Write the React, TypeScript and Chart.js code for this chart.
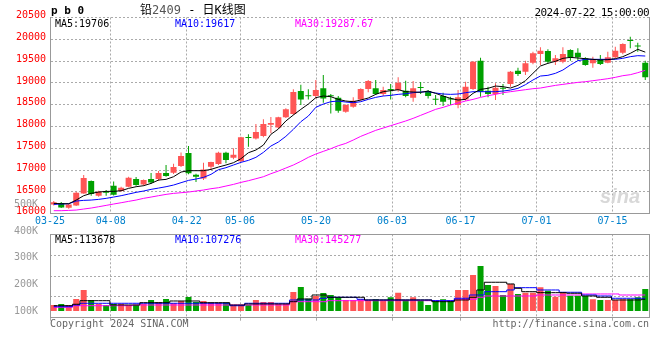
import React, { useEffect, useRef } from 'react';
import { Chart, registerables } from 'chart.js';

Chart.register(...registerables);
Chart.defaults.font.family = "'DejaVu Sans Mono', monospace";
Chart.defaults.font.size = 10;

const dates = [
  '03-25', '03-26', '03-27', '03-28', '03-29',
  '04-01', '04-02', '04-03', '04-08', '04-09', '04-10', '04-11', '04-12', '04-15', '04-16', '04-17', '04-18', '04-19', '04-22', '04-23', '04-24', '04-25', '04-26', '04-29', '04-30',
  '05-06', '05-07', '05-08', '05-09', '05-10', '05-13', '05-14', '05-15', '05-16', '05-17', '05-20', '05-21', '05-22', '05-23', '05-24', '05-27', '05-28', '05-29', '05-30', '05-31',
  '06-03', '06-04', '06-05', '06-06', '06-07', '06-11', '06-12', '06-13', '06-14', '06-17', '06-18', '06-19', '06-20', '06-21', '06-24', '06-25', '06-26', '06-27', '06-28',
  '07-01', '07-02', '07-03', '07-04', '07-05', '07-08', '07-09', '07-10', '07-11', '07-12', '07-15', '07-16', '07-17', '07-18', '07-19', '07-22',
];

const axisDates = ['03-25', '04-08', '04-22', '05-06', '05-20', '06-03', '06-17', '07-01', '07-15'];

const opens = [
  16216, 16247, 16139, 16193, 16468, 16751, 16415, 16506, 16644, 16522,
  16621, 16797, 16674, 16797, 16797, 16934, 16942, 17095, 17393, 16896,
  16812, 17080, 17141, 17401, 17286, 17202, 17752, 17729, 17783, 18043,
  17981, 18211, 18287, 18815, 18708, 18700, 18876, 18708, 18662, 18341,
  18455, 18623, 18860, 18876, 18746, 18860, 18837, 18822, 18662, 18899,
  18815, 18631, 18700, 18639, 18494, 18623, 18860, 19510, 18822, 18746,
  18884, 18975, 19281, 19258, 19464, 19663, 19732, 19487, 19487, 19755,
  19693, 19564, 19449, 19541, 19464, 19586, 19693, 19977, 19854, 19464,
];
const highs = [
  16292, 16270, 16231, 16506, 16888, 16766, 16529, 16545, 16743, 16621,
  16850, 16842, 16789, 16934, 16980, 17118, 17148, 17408, 17553, 16919,
  17171, 17194, 17424, 17424, 17500, 17768, 17821, 18058, 18165, 18218,
  18226, 18417, 18853, 18960, 18853, 19067, 19181, 18746, 18700, 18509,
  18669, 18876, 19067, 19067, 18914, 18975, 19128, 19052, 19044, 19021,
  18837, 18723, 18776, 18685, 18837, 19029, 19502, 19579, 18914, 18990,
  18975, 19273, 19350, 19510, 19716, 19816, 19770, 19640, 19816, 19770,
  19793, 19586, 19602, 19640, 19716, 19831, 19907, 20060, 19923, 19510,
];
const lows = [
  16193, 16132, 16117, 16178, 16460, 16415, 16392, 16415, 16422, 16506,
  16606, 16644, 16644, 16682, 16751, 16850, 16911, 17072, 16904, 16728,
  16774, 17003, 17118, 17156, 17248, 17187, 17538, 17706, 17752, 17844,
  17951, 18195, 18264, 18494, 18623, 18646, 18547, 18302, 18318, 18318,
  18432, 18593, 18784, 18723, 18700, 18623, 18799, 18669, 18570, 18746,
  18646, 18494, 18471, 18494, 18417, 18593, 18837, 18685, 18669, 18608,
  18723, 18914, 19158, 19181, 19426, 19411, 19449, 19411, 19449, 19510,
  19510, 19395, 19350, 19411, 19449, 19564, 19655, 19793, 19716, 19067,
];
const closes = [
  16262, 16147, 16216, 16483, 16820, 16453, 16506, 16483, 16438, 16598,
  16827, 16659, 16774, 16720, 16934, 16866, 17072, 17324, 16927, 16850,
  17018, 17186, 17401, 17232, 17355, 17752, 17736, 17874, 18058, 18081,
  18211, 18394, 18792, 18623, 18692, 18837, 18646, 18692, 18364, 18494,
  18593, 18860, 19044, 18746, 18837, 18830, 19006, 18700, 18876, 18884,
  18700, 18615, 18570, 18623, 18669, 18914, 19487, 18799, 18746, 18891,
  18868, 19258, 19204, 19449, 19678, 19739, 19487, 19564, 19663, 19586,
  19586, 19411, 19541, 19434, 19586, 19739, 19892, 19961, 19838, 19128,
];

const ma5 = [
  16239, 16231, 16231, 16315, 16415, 16468, 16499, 16514, 16514, 16529,
  16583, 16621, 16644, 16697, 16774, 16789, 16850, 16957, 16988, 16988,
  16988, 17018, 17072, 17118, 17171, 17263, 17400, 17462, 17576, 17821,
  17943, 18127, 18264, 18394, 18516, 18662, 18700, 18685, 18623, 18585,
  18570, 18608, 18654, 18738, 18799, 18822, 18845, 18799, 18792, 18784,
  18814, 18761, 18700, 18646, 18608, 18623, 18761, 18853, 18876, 18929,
  18914, 18883, 18944, 19051, 19220, 19388, 19449, 19495, 19564, 19586,
  19571, 19556, 19541, 19525, 19533, 19556, 19602, 19678, 19770, 19706,
];
const ma10 = [
  16216, 16224, 16231, 16292, 16308, 16315, 16331, 16354, 16384, 16415,
  16453, 16491, 16522, 16560, 16590, 16621, 16659, 16713, 16766, 16797,
  16835, 16904, 17011, 17057, 17118, 17179, 17225, 17294, 17408, 17553,
  17645, 17775, 17936, 18111, 18241, 18440, 18516, 18570, 18585, 18562,
  18547, 18570, 18623, 18669, 18700, 18715, 18738, 18753, 18776, 18792,
  18799, 18769, 18746, 18738, 18746, 18776, 18799, 18799, 18799, 18799,
  18814, 18837, 18876, 18960, 19067, 19158, 19174, 19220, 19296, 19411,
  19510, 19541, 19541, 19541, 19541, 19541, 19564, 19602, 19625, 19617,
];
const ma30 = [
  16071, 16071, 16078, 16086, 16109, 16132, 16162, 16193, 16224, 16254,
  16285, 16315, 16354, 16384, 16415, 16445, 16468, 16483, 16499, 16522,
  16545, 16575, 16598, 16636, 16674, 16720, 16759, 16804, 16850, 16919,
  16980, 17049, 17118, 17202, 17294, 17370, 17431, 17492, 17561, 17614,
  17691, 17775, 17844, 17913, 17966, 18020, 18073, 18127, 18188, 18257,
  18325, 18394, 18440, 18494, 18539, 18585, 18623, 18669, 18708, 18738,
  18776, 18799, 18822, 18845, 18868, 18883, 18914, 18944, 18967, 18990,
  19013, 19028, 19051, 19074, 19097, 19128, 19166, 19189, 19235, 19288,
];

const volumes = [
  122600, 126400, 122600, 145100, 178900, 141400, 126400, 122600, 126400, 126400,
  122600, 122600, 126400, 141400, 133900, 145100, 129000, 137600, 152600, 133900,
  137600, 131300, 131300, 131300, 122600, 122600, 122600, 141400, 133900, 133900,
  126400, 126400, 171400, 190100, 146300, 156400, 167600, 160100, 151500, 141400,
  141400, 144000, 138800, 144000, 138800, 151500, 168800, 141400, 151500, 138800,
  122600, 138800, 144000, 138800, 178900, 178900, 235100, 268900, 197600, 193900,
  160100, 201400, 163900, 168800, 168800, 189000, 176300, 153800, 168800, 157500,
  157500, 156400, 144000, 141400, 141400, 141400, 144000, 144000, 151500, 182600,
];
const volMa5 = [
  120000, 120000, 120000, 125300, 138800, 138800, 138800, 138800, 122600, 122600,
  122600, 122600, 131300, 131300, 131300, 131300, 137600, 137600, 137600, 137600,
  131300, 131300, 131300, 131300, 122600, 122600, 126400, 126400, 126400, 126400,
  126400, 126400, 135000, 145100, 145100, 160100, 160100, 151500, 151500, 151500,
  151500, 151500, 141400, 141400, 141400, 141400, 141400, 141400, 141400, 141400,
  141400, 135000, 135000, 135000, 141400, 141400, 151500, 178900, 207800, 207800,
  207800, 201400, 185300, 172500, 172500, 168800, 168800, 168800, 168800, 166500,
  166500, 156400, 156400, 151500, 151500, 141400, 141400, 141400, 141400, 144000,
];
const volMa10 = [
  116300, 116300, 116300, 122600, 129000, 129000, 129000, 129000, 129000, 129000,
  129000, 129000, 129000, 129000, 129000, 129000, 129000, 129000, 129000, 129000,
  129000, 129000, 129000, 129000, 120000, 120000, 129000, 129000, 129000, 129000,
  129000, 129000, 141400, 141400, 141400, 141400, 147800, 151500, 151500, 151500,
  151500, 144000, 141400, 141400, 141400, 141400, 141400, 141400, 141400, 141400,
  141400, 138800, 138800, 138800, 147800, 147800, 160100, 160100, 172500, 172500,
  172500, 178900, 187500, 187500, 187500, 178900, 178900, 178900, 170300, 170300,
  170300, 160100, 160100, 156400, 156400, 147800, 147800, 147800, 147800, 147800,
];
const volMa30 = [
  114000, 114000, 114000, 120000, 120000, 120000, 120000, 120000, 120000, 120000,
  120000, 122600, 122600, 122600, 122600, 122600, 122600, 122600, 122600, 122600,
  122600, 122600, 122600, 122600, 122600, 122600, 122600, 122600, 122600, 122600,
  122600, 122600, 135000, 135000, 135000, 135000, 135000, 138800, 138800, 138800,
  138800, 138800, 138800, 138800, 138800, 138800, 138800, 138800, 138800, 138800,
  138800, 138800, 138800, 138800, 144000, 144000, 144000, 151500, 156400, 156400,
  156400, 156400, 156400, 156400, 156400, 160100, 160100, 160100, 160100, 160100,
  160100, 163900, 163900, 163900, 163900, 163900, 160100, 160100, 160100, 160100,
];

const priceTicks = [16000, 16500, 17000, 17500, 18000, 18500, 19000, 19500, 20000, 20500];
const volTicks = [100000, 200000, 300000, 400000, 500000];
const volBase = 100000;

const UP = '#ff5555';
const DOWN = '#00a000';
const GRID = '#aaaaaa';
const FRAME = '#999999';
const DASH = [2, 2];

const mono = "'DejaVu Sans Mono', monospace";

export default function App() {
  const mainRef = useRef<HTMLCanvasElement>(null);
  const volRef = useRef<HTMLCanvasElement>(null);

  useEffect(() => {
    const colors = closes.map((c, i) => (c > opens[i] ? UP : DOWN));
    const labelIdx = axisDates.map((d) => dates.indexOf(d));
    const setLabelTicks = (s: any) => {
      s.ticks = labelIdx.map((v) => ({ value: v }));
    };

    const main = new Chart(mainRef.current as HTMLCanvasElement, {
      type: 'bar',
      data: {
        labels: dates,
        datasets: [
          { type: 'line', label: 'MA5', data: ma5, borderColor: '#000000', borderWidth: 1, pointRadius: 0, xAxisID: 'x', yAxisID: 'y' },
          { type: 'line', label: 'MA10', data: ma10, borderColor: '#0000ff', borderWidth: 1, pointRadius: 0, xAxisID: 'x', yAxisID: 'y' },
          { type: 'line', label: 'MA30', data: ma30, borderColor: '#ff00ff', borderWidth: 1, pointRadius: 0, xAxisID: 'x', yAxisID: 'y' },
          {
            type: 'bar', label: 'body', data: opens.map((o, i) => [o, closes[i]]),
            backgroundColor: colors, barThickness: 6, grouped: false, minBarLength: 1,
            inflateAmount: 0, borderWidth: 0, xAxisID: 'x', yAxisID: 'y',
          },
          {
            type: 'bar', label: 'wick', data: lows.map((l, i) => [l, highs[i]]),
            backgroundColor: colors, barThickness: 1, grouped: false,
            inflateAmount: 0, borderWidth: 0, xAxisID: 'x', yAxisID: 'y',
          },
        ] as any,
      },
      options: {
        responsive: false,
        animation: false,
        devicePixelRatio: 1,
        events: [],
        layout: { padding: { top: 17.5, right: 11, left: 0, bottom: 0 } },
        plugins: { legend: { display: false }, tooltip: { enabled: false } },
        scales: {
          x: { type: 'category', display: false, offset: true },
          xg: {
            type: 'linear', position: 'bottom', min: 0, max: 78.8, offset: false,
            afterBuildTicks: setLabelTicks,
            afterFit: (s: any) => { s.height = 21.2; },
            ticks: {
              callback: (v: any) => dates[v] ?? '', color: '#0080cc', autoSkip: false,
              maxRotation: 0, padding: 2, font: { size: 10, family: mono },
            },
            grid: { color: GRID, drawTicks: false, offset: false, borderDash: DASH } as any,
            border: { color: FRAME, dash: DASH },
          },
          y: {
            type: 'linear', position: 'left', min: 16000, max: 20500,
            afterBuildTicks: (s: any) => { s.ticks = priceTicks.map((v) => ({ value: v })); },
            afterFit: (s: any) => { s.width = 50; },
            ticks: { color: '#ff0000', padding: 4, labelOffset: -2, callback: (v: any) => String(v), font: { size: 10, family: mono } },
            grid: { color: GRID, drawTicks: false, borderDash: DASH } as any,
            border: { color: FRAME, dash: DASH },
          },
          yr: {
            type: 'linear', position: 'right', display: true, min: 0, max: 1,
            afterFit: (s: any) => { s.width = 0; },
            ticks: { display: false }, grid: { display: false }, border: { color: FRAME },
          },
        } as any,
      },
    });

    const vol = new Chart(volRef.current as HTMLCanvasElement, {
      type: 'bar',
      data: {
        labels: dates,
        datasets: [
          { type: 'line', label: 'VMA5', data: volMa5, borderColor: '#000000', borderWidth: 1, pointRadius: 0, stepped: 'middle', xAxisID: 'x', yAxisID: 'yv' },
          { type: 'line', label: 'VMA10', data: volMa10, borderColor: '#0000ff', borderWidth: 1, pointRadius: 0, stepped: 'middle', xAxisID: 'x', yAxisID: 'yv' },
          { type: 'line', label: 'VMA30', data: volMa30, borderColor: '#ff00ff', borderWidth: 1, pointRadius: 0, stepped: 'middle', xAxisID: 'x', yAxisID: 'yv' },
          {
            type: 'bar', label: 'vol', data: volumes, base: volBase,
            backgroundColor: colors, barThickness: 6, inflateAmount: 0, borderWidth: 0,
            xAxisID: 'x', yAxisID: 'yv',
          },
        ] as any,
      },
      options: {
        responsive: false,
        animation: false,
        devicePixelRatio: 1,
        events: [],
        layout: { padding: { top: 39.3, right: 11, left: 0, bottom: 0 } },
        plugins: { legend: { display: false }, tooltip: { enabled: false } },
        scales: {
          x: { type: 'category', display: false, offset: true },
          xg: {
            type: 'linear', position: 'bottom', min: 0, max: 78.8, offset: false,
            afterBuildTicks: setLabelTicks,
            afterFit: (s: any) => { s.height = 42.3; },
            ticks: { display: false },
            grid: { color: GRID, drawTicks: true, tickLength: 3, tickColor: GRID, offset: false, borderDash: DASH } as any,
            border: { color: FRAME, dash: DASH },
          },
          xt: {
            type: 'linear', position: 'top', display: true, min: 0, max: 1, offset: false,
            afterFit: (s: any) => { s.height = 0; },
            ticks: { display: false }, grid: { display: false }, border: { color: FRAME },
          },
          yv: {
            type: 'linear', position: 'left', min: 75000, max: 387500,
            afterBuildTicks: (s: any) => { s.ticks = volTicks.map((v) => ({ value: v })); },
            afterFit: (s: any) => { s.width = 50; },
            ticks: { color: '#999999', padding: 4, callback: (v: any) => `${v / 1000}K`, font: { size: 10, family: mono } },
            grid: { display: false },
            border: { color: FRAME },
          },
          yq: {
            type: 'linear', position: 'left', min: 0, max: 4,
            afterBuildTicks: (s: any) => { s.ticks = [1, 2, 3].map((v) => ({ value: v })); },
            afterFit: (s: any) => { s.width = 0; },
            ticks: { display: false },
            grid: { color: GRID, drawTicks: false, borderDash: DASH } as any,
            border: { display: false, dash: DASH },
          },
          yr: {
            type: 'linear', position: 'right', display: true, min: 0, max: 1,
            afterFit: (s: any) => { s.width = 0; },
            ticks: { display: false }, grid: { display: false }, border: { color: FRAME },
          },
        } as any,
      },
    });

    return () => {
      main.destroy();
      vol.destroy();
    };
  }, []);

  const txt = (extra: React.CSSProperties): React.CSSProperties => ({
    position: 'absolute', fontFamily: mono, fontSize: 10, lineHeight: '10px', whiteSpace: 'pre', ...extra,
  });

  return (
    <div style={{ position: 'absolute', left: 0, top: 0, width: 660, height: 360, background: '#ffffff', overflow: 'hidden' }}>
      <canvas ref={mainRef} width={660} height={235} style={{ position: 'absolute', left: 0, top: 0, display: 'block' }} />
      <canvas ref={volRef} width={660} height={165} style={{ position: 'absolute', left: 0, top: 195, display: 'block' }} />

      <div style={txt({ left: 51, top: 5, fontSize: 11, lineHeight: '11px', fontWeight: 'bold', color: '#000' })}>p b 0</div>
      <div style={txt({ left: 140, top: 4, fontSize: 12, lineHeight: '12px', color: '#000', fontFamily: "'DejaVu Sans Mono', 'Noto Sans CJK SC', monospace" })}>
        铅<span style={{ color: '#555' }}>2409</span> - 日K线图
      </div>
      <div style={txt({ right: 11, top: 7, fontSize: 11, lineHeight: '11px', letterSpacing: '-0.6px', color: '#000' })}>2024-07-22 15:00:00</div>

      <div style={txt({ left: 55, top: 19, color: '#000' })}>MA5:19706</div>
      <div style={txt({ left: 175, top: 19, color: '#0000ff' })}>MA10:19617</div>
      <div style={txt({ left: 295, top: 19, color: '#ff00ff' })}>MA30:19287.67</div>

      <div style={txt({ left: 55, top: 235, color: '#000' })}>MA5:113678</div>
      <div style={txt({ left: 175, top: 235, color: '#0000ff' })}>MA10:107276</div>
      <div style={txt({ left: 295, top: 235, color: '#ff00ff' })}>MA30:145277</div>

      <div style={txt({ left: 600, top: 186, fontFamily: "'Liberation Sans', sans-serif", fontSize: 20, lineHeight: '20px', fontStyle: 'italic', fontWeight: 'bold', color: '#d8d8d8' })}>sina</div>

      <div style={txt({ left: 50, top: 319, color: '#666' })}>Copyright 2024 SINA.COM</div>
      <div style={txt({ right: 11, top: 319, color: '#666' })}>http://finance.sina.com.cn</div>
    </div>
  );
}
